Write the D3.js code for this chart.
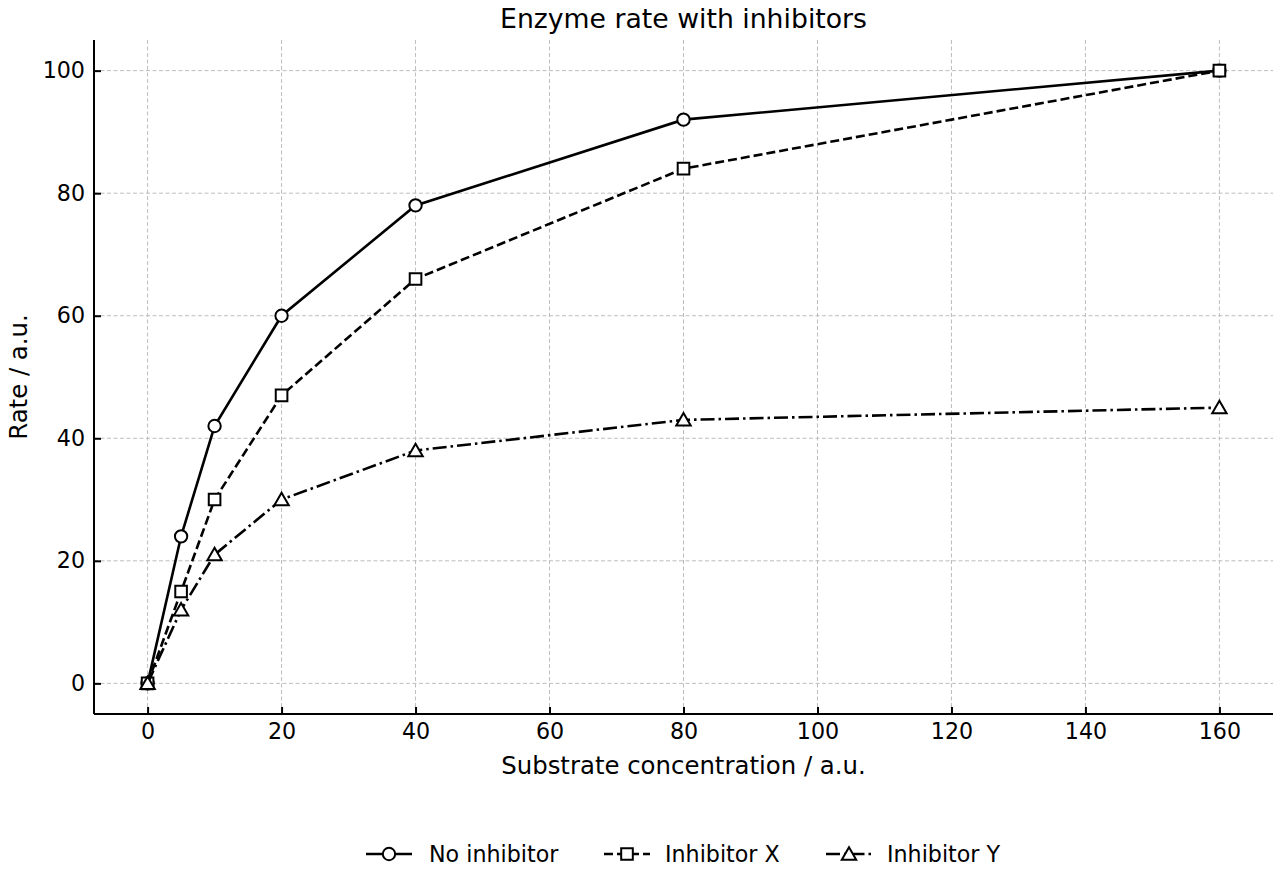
<!DOCTYPE html>
<html>
<head>
<meta charset="utf-8">
<script src="https://cdn.jsdelivr.net/npm/d3@7"></script>
<style>
  body { margin: 0; background: #fff; }
  text { font-family: "DejaVu Sans", sans-serif; fill: #000; }
</style>
</head>
<body>
<div class="chart"></div>
<script>
const substrate = [0, 5, 10, 20, 40, 80, 160];
const noInhibitor = [0, 24, 42, 60, 78, 92, 100];
const inhibitorX = [0, 15, 30, 47, 66, 84, 100];
const inhibitorY = [0, 12, 21, 30, 38, 43, 45];
const seriesNames = ['No inhibitor', 'Inhibitor X', 'Inhibitor Y'];
const xTicks = [0, 20, 40, 60, 80, 100, 120, 140, 160];
const yTicks = [0, 20, 40, 60, 80, 100];

const width = 1280, height = 880;
const m = {left: 94, right: 7, top: 40, bottom: 166};

const svg = d3.select('.chart').append('svg')
  .attr('width', width).attr('height', height);

const x = d3.scaleLinear().domain([-8, 168]).range([m.left, width - m.right]);
const y = d3.scaleLinear().domain([-5, 105]).range([height - m.bottom, m.top]);

// grid
svg.append('g').selectAll('line')
  .data(xTicks).enter().append('line')
  .attr('x1', d => x(d)).attr('x2', d => x(d))
  .attr('y1', m.top).attr('y2', height - m.bottom)
  .attr('stroke', '#bdbdbd').attr('stroke-width', 1)
  .attr('stroke-dasharray', '4,2.5');
svg.append('g').selectAll('line')
  .data(yTicks).enter().append('line')
  .attr('x1', m.left).attr('x2', width - m.right)
  .attr('y1', d => y(d)).attr('y2', d => y(d))
  .attr('stroke', '#bdbdbd').attr('stroke-width', 1)
  .attr('stroke-dasharray', '4,2.5');

// axes, ticks pointing inward
const xAxis = svg.append('g')
  .attr('transform', `translate(0,${height - m.bottom})`)
  .call(d3.axisBottom(x).tickValues(xTicks).tickSize(-7).tickPadding(9));
const yAxis = svg.append('g')
  .attr('transform', `translate(${m.left},0)`)
  .call(d3.axisLeft(y).tickValues(yTicks).tickSize(-7).tickPadding(9));
[xAxis, yAxis].forEach(a => {
  a.select('.domain').attr('stroke-width', 2).attr('stroke', '#000');
  a.selectAll('.tick line').attr('stroke-width', 2).attr('stroke', '#000');
  a.selectAll('.tick text').attr('font-size', 22.2);
});
xAxis.select('.domain').attr('d', `M${m.left},0H${width - m.right}`);
yAxis.select('.domain').attr('d', `M0,${m.top}V${height - m.bottom}`);

// labels
svg.append('text').attr('x', (m.left + width - m.right) / 2).attr('y', 28)
  .attr('text-anchor', 'middle').attr('font-size', 26.7).text('Enzyme rate with inhibitors');
svg.append('text').attr('x', (m.left + width - m.right) / 2).attr('y', 774)
  .attr('text-anchor', 'middle').attr('font-size', 24.4).text('Substrate concentration / a.u.');
svg.append('text')
  .attr('transform', `translate(27,${(m.top + height - m.bottom) / 2}) rotate(-90)`)
  .attr('text-anchor', 'middle').attr('font-size', 24.4).text('Rate / a.u.');

const allSeries = [noInhibitor, inhibitorX, inhibitorY];
const dashes = [null, '9,4', '14,4,2.5,4'];
const shapes = [d3.symbolCircle, d3.symbolSquare, d3.symbolTriangle];
const sizes = [120, 135, 90];

const line = d3.line().x(d => x(d[0])).y(d => y(d[1]));

allSeries.forEach((vals, i) => {
  const pts = substrate.map((s, j) => [s, vals[j]]);
  svg.append('path').datum(pts)
    .attr('d', line).attr('fill', 'none').attr('stroke', '#000')
    .attr('stroke-width', 2.6).attr('stroke-dasharray', dashes[i]);
  svg.append('g').selectAll('path').data(pts).enter().append('path')
    .attr('transform', d => `translate(${x(d[0])},${y(d[1]) + (i == 2 ? 1.5 : 0)})`)
    .attr('d', d3.symbol().type(shapes[i]).size(sizes[i]))
    .attr('fill', '#fff').attr('stroke', '#000').attr('stroke-width', 2);
});

// legend
const legX = [366, 604, 826];
const legY = 854;
const leg = svg.append('g').selectAll('g').data(seriesNames).enter().append('g')
  .attr('transform', (d, i) => `translate(${legX[i]},${legY})`);
leg.append('line').attr('x1', 0).attr('x2', 46).attr('y1', 0).attr('y2', 0)
  .attr('stroke', '#000').attr('stroke-width', 2.6)
  .attr('stroke-dasharray', (d, i) => dashes[i]);
leg.append('path')
  .attr('transform', (d, i) => `translate(23,${i == 2 ? 1.5 : 0})`)
  .attr('d', (d, i) => d3.symbol().type(shapes[i]).size(sizes[i])())
  .attr('fill', '#fff').attr('stroke', '#000').attr('stroke-width', 2);
leg.append('text').attr('x', (d, i) => [63, 61, 61][i]).attr('y', 8)
  .attr('font-size', 22.2).text(d => d);
</script>
</body>
</html>
